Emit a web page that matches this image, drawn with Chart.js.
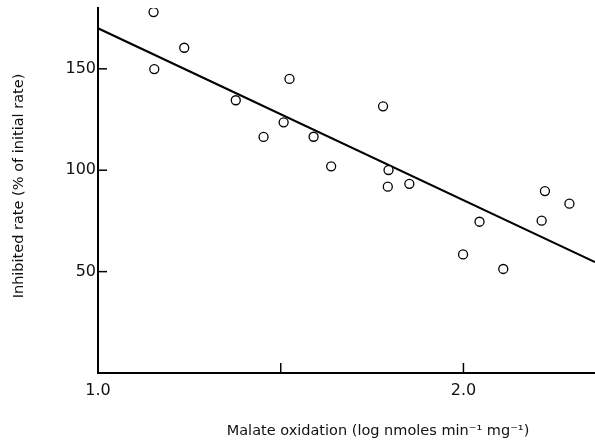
<!DOCTYPE html>
<html>
<head>
<meta charset="utf-8">
<script src="https://cdn.jsdelivr.net/npm/chart.js@4/dist/chart.umd.min.js"></script>
<style>
  html, body { margin: 0; padding: 0; background: #fff; overflow: hidden; }
  #wrap { width: 595px; height: 442px; position: relative; }
</style>
</head>
<body>
<div id="wrap"><canvas id="c"></canvas></div>
<script>
// ---- data ----
const xValues = [1.152, 1.154, 1.236, 1.377, 1.453, 1.508, 1.524, 1.590, 1.638, 1.780,
                 1.795, 1.793, 1.852, 1.999, 2.044, 2.109, 2.214, 2.223, 2.290];
const yValues = [178.0, 149.9, 160.4, 134.5, 116.4, 123.6, 145.0, 116.5, 101.9, 131.5,
                 100.1, 91.9, 93.3, 58.5, 74.6, 51.3, 75.1, 89.7, 83.5];
const fitX = [1.0, 2.36];
const fitY = [170.0, 54.7];
const xTicks = [1.0, 1.5, 2.0];
const xTickLabels = ['1.0', '', '2.0'];
const yTicks = [50, 100, 150];
const xTitle = 'Malate oxidation (log nmoles min\u207B\u00B9 mg\u207B\u00B9)';
const yTitle = 'Inhibited rate (% of initial rate)';

const FONT = '"DejaVu Sans", sans-serif';

const points = xValues.map((x, i) => ({ x: x, y: yValues[i] }));
const fitLine = fitX.map((x, i) => ({ x: x, y: fitY[i] }));

const decor = {
  id: 'decor',
  afterDraw(chart) {
    const ctx = chart.ctx;
    const xs = chart.scales.x, ys = chart.scales.y;
    const area = chart.chartArea;
    ctx.save();
    ctx.strokeStyle = '#000';
    ctx.lineWidth = 1.5;
    // inward tick marks
    yTicks.forEach(v => {
      const py = ys.getPixelForValue(v);
      ctx.beginPath(); ctx.moveTo(area.left, py); ctx.lineTo(area.left + 9, py); ctx.stroke();
    });
    xTicks.slice(1).forEach(v => {
      const px = xs.getPixelForValue(v);
      ctx.beginPath(); ctx.moveTo(px, area.bottom); ctx.lineTo(px, area.bottom - 10); ctx.stroke();
    });
    // axis titles
    ctx.fillStyle = '#111';
    ctx.font = '14.5px ' + FONT;
    ctx.textAlign = 'center';
    ctx.textBaseline = 'middle';
    ctx.fillText(xTitle, 378, 431);
    ctx.translate(19, 186);
    ctx.rotate(-Math.PI / 2);
    ctx.fillText(yTitle, 0, 0);
    ctx.restore();
  }
};

new Chart(document.getElementById('c'), {
  type: 'scatter',
  data: {
    datasets: [
      {
        type: 'line',
        data: fitLine,
        borderColor: '#000',
        borderWidth: 2,
        pointRadius: 0,
        fill: false,
        order: 2
      },
      {
        data: points,
        pointStyle: 'circle',
        pointRadius: 4.5,
        pointBorderWidth: 1.3,
        pointBackgroundColor: '#fff',
        pointBorderColor: '#000',
        order: 1
      }
    ]
  },
  options: {
    responsive: true,
    maintainAspectRatio: false,
    animation: false,
    layout: { autoPadding: false, padding: { top: 8, right: 0, left: 0, bottom: 0 } },
    plugins: { legend: { display: false }, tooltip: { enabled: false } },
    scales: {
      x: {
        type: 'linear',
        min: 1.0,
        max: 2.36,
        afterFit(scale) { scale.height = 69; scale.paddingLeft = 0; scale.paddingRight = 0; },
        afterBuildTicks(scale) { scale.ticks = xTicks.map(v => ({ value: v })); },
        grid: { display: false, drawTicks: false },
        border: { display: true, color: '#000', width: 2 },
        ticks: {
          padding: 8,
          color: '#111',
          font: { family: FONT, size: 16 },
          maxRotation: 0,
          callback: (v) => { const i = xTicks.indexOf(v); return i >= 0 ? xTickLabels[i] : ''; }
        }
      },
      y: {
        type: 'linear',
        min: 0,
        max: 180,
        afterFit(scale) { scale.width = 98; scale.paddingTop = 0; scale.paddingBottom = 0; },
        afterBuildTicks(scale) { scale.ticks = yTicks.map(v => ({ value: v })); },
        grid: { display: false, drawTicks: false },
        border: { display: true, color: '#000', width: 2 },
        ticks: {
          padding: 2,
          color: '#111',
          font: { family: FONT, size: 16 },
          callback: (v) => String(v)
        }
      }
    }
  },
  plugins: [decor]
});
</script>
</body>
</html>
